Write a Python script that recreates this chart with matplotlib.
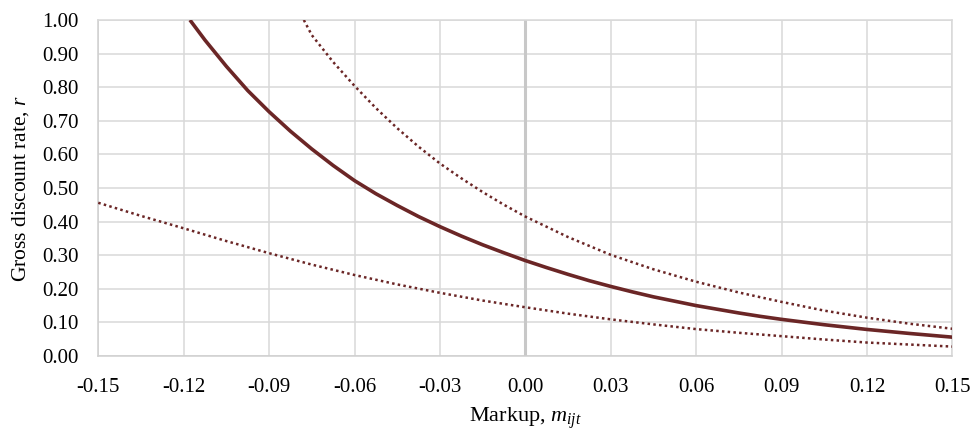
import numpy as np
import matplotlib
matplotlib.use('Agg')
import matplotlib.pyplot as plt
from matplotlib.ticker import FormatStrFormatter

plt.rcParams['font.family'] = ['Liberation Serif', 'DejaVu Serif']
plt.rcParams['mathtext.fontset'] = 'custom'
plt.rcParams['mathtext.rm'] = 'Liberation Serif'
plt.rcParams['mathtext.it'] = 'Liberation Serif:italic'
plt.rcParams['axes.unicode_minus'] = False

# values
x_mid = [-0.1178, -0.1125, -0.105, -0.0975, -0.09, -0.0825, -0.075, -0.0675,
         -0.06, -0.0525, -0.045, -0.0375, -0.03, -0.0225, -0.015, -0.0075,
         0.0, 0.0075, 0.015, 0.0225, 0.03, 0.0375, 0.045, 0.0525, 0.06,
         0.0675, 0.075, 0.0825, 0.09, 0.0975, 0.105, 0.1125, 0.12, 0.1275,
         0.135, 0.1425, 0.15]
r_mid = [1.00, 0.94, 0.862, 0.790, 0.727, 0.669, 0.616, 0.567,
         0.522, 0.483, 0.448, 0.415, 0.385, 0.357, 0.331, 0.307,
         0.284, 0.263, 0.243, 0.224, 0.207, 0.191, 0.176, 0.163, 0.150,
         0.139, 0.128, 0.118, 0.109, 0.101, 0.093, 0.086, 0.079, 0.073,
         0.067, 0.0615, 0.056]

x_high = [-0.0778, -0.075, -0.0675, -0.06, -0.0525, -0.045, -0.0375, -0.03,
          -0.0225, -0.015, -0.0075, 0.0, 0.015, 0.03, 0.045, 0.06, 0.075,
          0.09, 0.105, 0.12, 0.135, 0.15]
r_high = [1.00, 0.955, 0.875, 0.804, 0.738, 0.678, 0.623, 0.573,
          0.529, 0.488, 0.450, 0.415, 0.354, 0.301, 0.258, 0.221, 0.189,
          0.161, 0.135, 0.114, 0.096, 0.081]

x_low = [-0.15, -0.135, -0.12, -0.105, -0.09, -0.075, -0.06, -0.045, -0.03,
         -0.015, 0.0, 0.015, 0.03, 0.045, 0.06, 0.075, 0.09, 0.105, 0.12,
         0.135, 0.15]
r_low = [0.456, 0.417, 0.380, 0.342, 0.306, 0.272, 0.241, 0.213, 0.188,
         0.165, 0.145, 0.126, 0.109, 0.094, 0.080, 0.069, 0.059, 0.049, 0.040,
         0.034, 0.028]

x_ticks = [-0.15, -0.12, -0.09, -0.06, -0.03, 0.0, 0.03, 0.06, 0.09, 0.12, 0.15]
y_ticks = [0.0, 0.1, 0.2, 0.3, 0.4, 0.5, 0.6, 0.7, 0.8, 0.9, 1.0]

line_col = '#6b2626'
grid_col = '#d9d9d9'

fig = plt.figure(figsize=(9.75, 4.37), dpi=100)
ax = fig.add_axes([0.1008, 0.1854, 0.876, 0.7688])

ax.plot(x_low, r_low, color=line_col, lw=1.8, linestyle=(0, (1, 1.3)), zorder=3)
ax.plot(x_high, r_high, color=line_col, lw=1.8, linestyle=(0, (1, 1.3)), zorder=3)
ax.plot(x_mid, r_mid, color=line_col, lw=2.6, zorder=4, solid_capstyle='butt',
        solid_joinstyle='round')

ax.axvline(0, color='#c8c8c8', lw=2.2, zorder=2)

ax.set_xlim(-0.15, 0.15)
ax.set_ylim(0, 1)
ax.set_xticks(x_ticks)
ax.set_yticks(y_ticks)
ax.xaxis.set_major_formatter(FormatStrFormatter('%.2f'))
ax.yaxis.set_major_formatter(FormatStrFormatter('%.2f'))
ax.tick_params(length=0, labelsize=15, colors='#000000')
ax.tick_params(axis='x', pad=16)
ax.tick_params(axis='y', pad=14)

ax.grid(True, color=grid_col, lw=1.1, zorder=1)
ax.set_axisbelow(True)
for s in ax.spines.values():
    s.set_color(grid_col)
    s.set_linewidth(1.1)
ax.spines['left'].set_color('#cfcfcf')
ax.spines['bottom'].set_color('#cfcfcf')

ax.set_xlabel(r'Markup, $m_{ijt}$', fontsize=16, labelpad=6)
ax.set_ylabel(r'Gross discount rate, $r$', fontsize=15.5, labelpad=8)

fig.savefig('out.png', dpi=100)
